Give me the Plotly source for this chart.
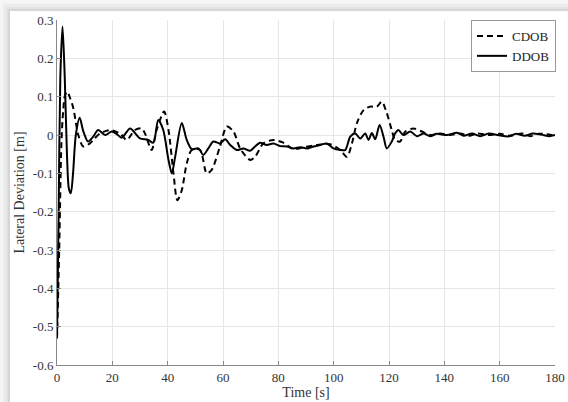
import plotly.graph_objects as go

# ---- data ----
t_ddob = [0, 0.6, 1.2, 2.0, 2.8, 3.6, 4.3, 5.0, 5.8, 6.8, 8.2, 9.5, 11.2, 13, 14.9, 17.4,
          19.8, 21.5, 23.4, 26.4, 28.8, 30, 33, 34.8, 36.6, 38.4, 40.3, 41.5, 42.7, 45.1,
          46.9, 48.7, 51.1, 52.9, 54.7, 56.5, 58.9, 60.8, 62.6, 65, 67.4, 69.8, 71.6, 73.4,
          75.8, 78.2, 80.7, 83.1, 85.5, 87.9, 90.3, 92.7, 95.1, 97.5, 99.9, 102.4, 104.2,
          106, 107.8, 109.6, 111.4, 112.6, 113.8, 115, 116.6, 118, 119.2, 121, 122.2, 123.4,
          125.2, 127.7, 130.1, 132.5, 134.9, 137.3, 141, 144.6, 147, 150, 153, 156, 160,
          163, 166, 169, 172, 175, 178, 180]
v_ddob = [-0.53, -0.2, 0.15, 0.283, 0.15, -0.05, -0.14, -0.152, -0.1, 0.0, 0.045, 0.01,
          -0.017, -0.005, 0.013, 0.0, 0.009, 0.003, -0.007, 0.017, 0.0, -0.009, -0.013,
          -0.02, 0.039, 0.013, -0.065, -0.1, -0.057, 0.031, -0.013, -0.037, -0.035, -0.052,
          -0.035, -0.017, -0.022, -0.011, -0.026, -0.039, -0.035, -0.041, -0.03, -0.02,
          -0.026, -0.022, -0.029, -0.03, -0.035, -0.032, -0.035, -0.03, -0.026, -0.022,
          -0.035, -0.039, -0.039, -0.004, 0.004, -0.009, 0.004, -0.013, 0.005, -0.011,
          0.026, -0.004, -0.035, -0.017, 0.004, 0.013, 0.0, 0.009, -0.003, 0.004, -0.003,
          0.003, 0.0, 0.006, -0.002, 0.004, -0.003, 0.004, -0.001, -0.004, 0.003, -0.002,
          0.004, 0.001, -0.003, 0.0]

t_cdob = [0, 0.8, 1.6, 2.2, 2.9, 3.7, 4.8, 5.9, 7.7, 9.5, 11.9, 13.5, 15.5, 17.5, 19.2,
          22.8, 25.2, 28.2, 30.6, 31.8, 34.2, 36, 38.7, 40.3, 42.1, 43.5, 45.1, 46.9, 48.7,
          51.7, 54.1, 55.9, 58.9, 61.4, 63.8, 66.2, 69.8, 71.6, 74.6, 78.2, 81.8, 85.5,
          89.1, 93.9, 98.7, 102.4, 104.8, 106.6, 108.4, 110.8, 113.2, 115.6, 117.4, 119.2,
          121, 122.2, 124, 125.9, 128.9, 131.9, 134.9, 138.5, 142, 145.7, 149, 152, 156,
          160, 164, 168, 171, 174, 177, 180]
v_cdob = [-0.53, -0.3, -0.02, 0.06, 0.104, 0.113, 0.095, 0.07, 0.0, -0.03, -0.022, -0.01,
          0.004, 0.01, 0.013, 0.004, -0.013, 0.013, 0.017, 0.004, -0.039, 0.013, 0.061,
          0.013, -0.1, -0.17, -0.144, -0.074, -0.039, -0.039, -0.1, -0.091, -0.03, 0.022,
          0.009, -0.035, -0.065, -0.057, -0.022, -0.013, -0.02, -0.037, -0.032, -0.026,
          -0.024, -0.039, -0.057, -0.022, 0.031, 0.065, 0.074, 0.074, 0.087, 0.057, 0.013,
          -0.013, -0.017, 0.009, 0.017, 0.009, 0.0, 0.004, 0.0, 0.004, -0.002, 0.004, 0.0,
          0.003, -0.002, 0.004, -0.003, 0.003, 0.002, -0.002]

x_ticks = [0, 20, 40, 60, 80, 100, 120, 140, 160, 180]
y_ticks = [0.3, 0.2, 0.1, 0, -0.1, -0.2, -0.3, -0.4, -0.5, -0.6]
y_tick_text = ["0.3", "0.2", "0.1", "0", "-0.1", "-0.2", "-0.3", "-0.4", "-0.5", "-0.6"]

# ---- figure ----
W, H = 568, 402
L, R, T, B = 57, 13, 20, 37
pw, ph = W - L - R, H - T - B


def px(x):
    return (x - L) / pw


def py(y):
    return (H - B - y) / ph


FONT = "Liberation Serif"

fig = go.Figure()
fig.add_trace(go.Scatter(x=t_cdob, y=v_cdob, name="CDOB", mode="lines",
                         line=dict(color="black", width=2, dash="6px,4px",
                                   shape="spline", smoothing=0.8)))
fig.add_trace(go.Scatter(x=t_ddob, y=v_ddob, name="DDOB", mode="lines",
                         line=dict(color="black", width=2, shape="spline", smoothing=0.8)))

shapes = []
for (x0, y0, col) in [(3, 4, "#ececec"), (6, 7, "#e2e2e2"), (8, 9, "#d6d6d6"),
                      (10, 11, "#ffffff")]:
    shapes.append(dict(type="rect", xref="paper", yref="paper", layer="below",
                       x0=px(x0), x1=px(W + 5), y0=py(y0), y1=py(H + 5),
                       fillcolor=col, line=dict(width=0)))

fig.update_layout(
    width=W, height=H,
    margin=dict(l=L, r=R, t=T, b=B, pad=0),
    paper_bgcolor="#f5f5f5",
    plot_bgcolor="rgba(0,0,0,0)",
    font=dict(family=FONT, size=13, color="#333333"),
    shapes=shapes,
    showlegend=True,
    legend=dict(x=1.002, y=1, xanchor="right", yanchor="top",
                bgcolor="white", bordercolor="#999999", borderwidth=1,
                font=dict(family=FONT, size=13, color="#222222"),
                itemwidth=30, tracegroupgap=0),
    xaxis=dict(range=[0, 180], tickvals=x_ticks, ticks="inside", ticklen=4,
               tickcolor="#888888", showline=True, linecolor="#888888", linewidth=1,
               showgrid=True, gridcolor="#e6e6e6", gridwidth=1, zeroline=False,
               automargin=False,
               title=dict(text="Time [s]", standoff=0, font=dict(family=FONT, size=14)),
               tickfont=dict(family=FONT, size=13)),
    yaxis=dict(range=[-0.6, 0.3], tickvals=y_ticks, ticktext=y_tick_text,
               ticks="inside", ticklen=4, tickcolor="#888888", showline=True,
               linecolor="#888888", linewidth=1, showgrid=True, gridcolor="#e6e6e6",
               gridwidth=1, zeroline=False, automargin=False,
               title=dict(text="Lateral Deviation [m]", standoff=4,
                          font=dict(family=FONT, size=14)),
               tickfont=dict(family=FONT, size=13)),
)

fig.write_html("out.html",
               config={"displayModeBar": False},
               post_script="document.body.style.margin='0';"
                           "document.body.style.background='#f5f5f5';")
